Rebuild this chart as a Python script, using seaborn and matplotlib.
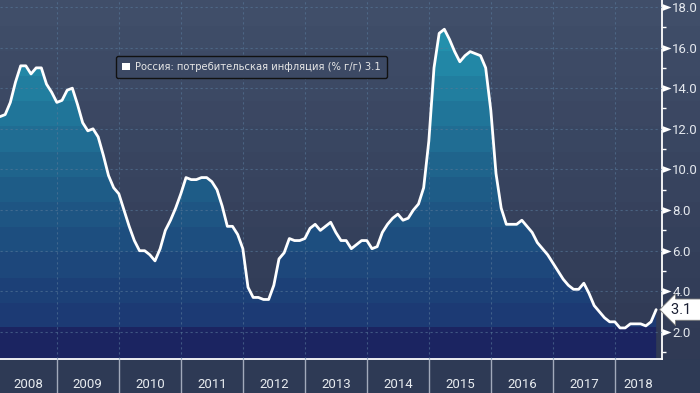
import numpy as np
import pandas as pd
import matplotlib.pyplot as plt
import seaborn as sns
from matplotlib.colors import to_rgb
from matplotlib.patches import Patch
from matplotlib.path import Path
from matplotlib.markers import MarkerStyle
from matplotlib.transforms import blended_transform_factory

# ── data: Russia CPI, % y/y, monthly (Jan 2008 .. Aug 2018) ──
cpi_2008 = [12.6, 12.7, 13.3, 14.3, 15.1, 15.1, 14.7, 15.0, 15.0, 14.2, 13.8, 13.3]
cpi_2009 = [13.4, 13.9, 14.0, 13.2, 12.3, 11.9, 12.0, 11.6, 10.7, 9.7, 9.1, 8.8]
cpi_2010 = [8.0, 7.2, 6.5, 6.0, 6.0, 5.8, 5.5, 6.1, 7.0, 7.5, 8.1, 8.8]
cpi_2011 = [9.6, 9.5, 9.5, 9.6, 9.6, 9.4, 9.0, 8.2, 7.2, 7.2, 6.8, 6.1]
cpi_2012 = [4.2, 3.7, 3.7, 3.6, 3.6, 4.3, 5.6, 5.9, 6.6, 6.5, 6.5, 6.6]
cpi_2013 = [7.1, 7.3, 7.0, 7.2, 7.4, 6.9, 6.5, 6.5, 6.1, 6.3, 6.5, 6.5]
cpi_2014 = [6.1, 6.2, 6.9, 7.3, 7.6, 7.8, 7.5, 7.6, 8.0, 8.3, 9.1, 11.4]
cpi_2015 = [15.0, 16.7, 16.9, 16.4, 15.8, 15.3, 15.6, 15.8, 15.7, 15.6, 15.0, 12.9]
cpi_2016 = [9.8, 8.1, 7.3, 7.3, 7.3, 7.5, 7.2, 6.9, 6.4, 6.1, 5.8, 5.4]
cpi_2017 = [5.0, 4.6, 4.3, 4.1, 4.1, 4.4, 3.9, 3.3, 3.0, 2.7, 2.5, 2.5]
cpi_2018 = [2.2, 2.2, 2.4, 2.4, 2.4, 2.3, 2.5, 3.1]

years = list(range(2008, 2019))
y_ticks = [2, 4, 6, 8, 10, 12, 14, 16, 18]
legend_label = 'Россия: потребительская инфляция (% г/г)'

cpi = (cpi_2008 + cpi_2009 + cpi_2010 + cpi_2011 + cpi_2012 + cpi_2013
       + cpi_2014 + cpi_2015 + cpi_2016 + cpi_2017 + cpi_2018)
dates = pd.date_range('2008-01-01', periods=len(cpi), freq='MS')
df = pd.DataFrame({'t': dates.year + dates.month / 12, 'cpi': cpi})

# ── layout ──
W, H = 700, 393
plot_w, band_h = 662, 34
x0 = 2008 + 1 / 12
x1 = x0 + plot_w / 62.0
y0, y1 = 0.67, 18.34

sns.set_style('dark')
plt.rcParams['font.family'] = ['DejaVu Sans']
num_font = ['Roboto', 'DejaVu Sans']

fig = plt.figure(figsize=(W / 100, H / 100), dpi=100)

def blend(c_a, c_b, f):
    a, b = np.array(to_rgb(c_a)), np.array(to_rgb(c_b))
    return a + (b - a) * f

# background: stepped vertical gradient + dark label band
bg = fig.add_axes([0, 0, 1, 1], zorder=-1)
bg_img = np.zeros((H, 1, 3))
for r in range(H):
    if r >= H - band_h:
        bg_img[r, 0] = to_rgb('#2e3a55')
    else:
        step = min(int(r // 25.2), 13) / 13
        bg_img[r, 0] = blend('#404e69', '#303a55', step)
bg.imshow(bg_img, aspect='auto', extent=[0, 1, 0, 1], interpolation='nearest')
bg.set_xlim(0, 1)
bg.set_ylim(0, 1)
bg.axis('off')

ax = fig.add_axes([0, band_h / H, plot_w / W, 1 - band_h / H])
ax.patch.set_visible(False)

# stepped gradient fill under the curve
ph = H - band_h
fill_img = np.zeros((ph, 1, 3))
for r in range(ph):
    if r >= 327:
        fill_img[r, 0] = to_rgb('#1b2461')
    else:
        f = min(int(r // 25.2), 12) / 12
        if f < 0.55:
            fill_img[r, 0] = blend('#2499b3', '#1f5f89', f / 0.55)
        else:
            fill_img[r, 0] = blend('#1f5f89', '#1c3a74', (f - 0.55) / 0.45)
im = ax.imshow(fill_img, aspect='auto', extent=[x0, x1, y0, y1],
               interpolation='nearest', zorder=1)
poly = ax.fill_between(df['t'], df['cpi'], y0, color='none', lw=0)
im.set_clip_path(poly.get_paths()[0], transform=ax.transData)

sns.lineplot(data=df, x='t', y='cpi', color='white', lw=2, ax=ax, zorder=4)

ax.set_xlim(x0, x1)
ax.set_ylim(y0, y1)
ax.set_xlabel('')
ax.set_ylabel('')

# grid
ax.set_axisbelow(False)
ax.grid(True, color='#58799a', ls=(0, (2, 2.5)), lw=0.8, alpha=0.6)

# spines
for s in ['top', 'left']:
    ax.spines[s].set_visible(False)
for s in ['right', 'bottom']:
    ax.spines[s].set_visible(True)
    ax.spines[s].set_color('white')
    ax.spines[s].set_linewidth(1.3)

# x axis: year boundaries + centred year labels
ax.set_xticks(years[1:])
ax.set_xticklabels([])
mids = [(max(y, x0) + min(y + 1, x1)) / 2 for y in years]
ax.set_xticks(mids, minor=True)
ax.set_xticklabels([str(y) for y in years], minor=True, family=num_font)
ax.tick_params(axis='x', which='major', bottom=True, length=24.5, width=1,
               color='#a2aabb', direction='out')
ax.tick_params(axis='x', which='minor', bottom=True, length=0, pad=13.5,
               labelsize=9.5, labelcolor='#e8ecf0')
ax.xaxis.grid(False, which='minor')

# y axis on the right, triangle major ticks
ax.yaxis.tick_right()
ax.set_yticks(y_ticks)
ax.set_yticklabels([f'{v:.1f}' for v in y_ticks], family=num_font)
ax.set_yticks(list(range(1, 19, 2)), minor=True)
ax.tick_params(axis='y', which='major', length=0, pad=7.5, labelsize=9.5,
               labelcolor='#e4e8ee', right=True, left=False)
ax.tick_params(axis='y', which='minor', length=3, width=1, color='white',
               direction='out', right=True, left=False)
tri = MarkerStyle(Path([(0, -0.38), (1, 0), (0, 0.38), (0, -0.38)],
                       [Path.MOVETO, Path.LINETO, Path.LINETO, Path.CLOSEPOLY]))
for tk in ax.yaxis.get_major_ticks():
    tk.tick2line.set_visible(True)
    tk.tick2line.set_marker(tri)
    tk.tick2line.set_markersize(13)
    tk.tick2line.set_markerfacecolor('white')
    tk.tick2line.set_markeredgewidth(0)

# legend
leg = ax.legend(handles=[Patch(facecolor='white', edgecolor='none')],
                labels=[f'{legend_label} {cpi[-1]:.1f}'],
                loc='upper left', bbox_to_anchor=(116 / plot_w, 1 - 56 / ph),
                fontsize=7.2, labelcolor='#e6e6e6', frameon=True, fancybox=True,
                facecolor='#3c4964', edgecolor='#111111', framealpha=1,
                handlelength=0.8, handleheight=0.8, handletextpad=0.5,
                borderpad=0.6, borderaxespad=0)
leg.get_frame().set_linewidth(1.0)

# last value callout
tr = blended_transform_factory(ax.transAxes, ax.transData)
ax.text(1.014, cpi[-1], f'{cpi[-1]:.1f}  ', transform=tr, ha='left', va='center',
        fontsize=10.5, color='#1a1f33', clip_on=False, zorder=6, family=num_font,
        bbox=dict(boxstyle='larrow,pad=0.25', fc='white', ec='#777777', lw=0.6))

fig.savefig('out.png', dpi=100)
